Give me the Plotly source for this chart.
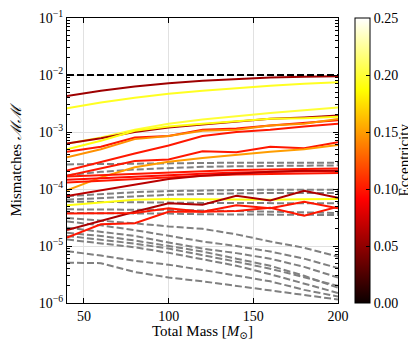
import plotly.graph_objects as go

# masas totales (M_sun) donde se evalúan los mismatches
masses = [40, 60, 80, 100, 120, 140, 160, 180, 200]

threshold = 1e-2

# series con excentricidad (líneas sólidas, color según excentricidad)
ecc_lines = [
    (0.055, [4.3e-3, 5.3e-3, 6.3e-3, 7.2e-3, 7.9e-3, 8.5e-3, 9.0e-3, 9.3e-3, 9.5e-3]),
    (0.195, [2.6e-3, 3.3e-3, 4.0e-3, 4.7e-3, 5.3e-3, 5.9e-3, 6.5e-3, 7.0e-3, 7.5e-3]),
    (0.200, [6.2e-4, 8.0e-4, 1.1e-3, 1.4e-3, 1.65e-3, 1.9e-3, 2.15e-3, 2.4e-3, 2.7e-3]),
    (0.060, [6.3e-4, 7.8e-4, 1.0e-3, 1.2e-3, 1.35e-3, 1.5e-3, 1.7e-3, 1.8e-3, 1.95e-3]),
    (0.190, [5.0e-4, 7.0e-4, 1.05e-3, 1.25e-3, 1.4e-3, 1.55e-3, 1.7e-3, 1.75e-3, 1.85e-3]),
    (0.100, [4.5e-4, 5.5e-4, 8.0e-4, 8.5e-4, 1.1e-3, 1.15e-3, 1.3e-3, 1.45e-3, 1.6e-3]),
    (0.145, [3.6e-4, 5.0e-4, 7.5e-4, 8.5e-4, 1.05e-3, 1.1e-3, 1.3e-3, 1.4e-3, 1.7e-3]),
    (0.100, [2.1e-4, 3.0e-4, 4.2e-4, 5.8e-4, 8.5e-4, 1.0e-3, 1.1e-3, 1.25e-3, 1.4e-3]),
    (0.100, [1.7e-4, 2.3e-4, 3.1e-4, 3.3e-4, 4.6e-4, 4.4e-4, 5.5e-4, 5.2e-4, 6.6e-4]),
    (0.150, [9.5e-5, 1.6e-4, 2.4e-4, 3.0e-4, 3.5e-4, 4.0e-4, 4.5e-4, 5.0e-4, 5.9e-4]),
    (0.100, [1.65e-4, 1.75e-4, 1.85e-4, 1.95e-4, 2.05e-4, 2.15e-4, 2.2e-4, 2.25e-4, 2.3e-4]),
    (0.095, [1.45e-4, 1.55e-4, 1.65e-4, 1.75e-4, 1.85e-4, 1.95e-4, 2.0e-4, 2.05e-4, 2.1e-4]),
    (0.100, [1.3e-4, 1.4e-4, 1.5e-4, 1.6e-4, 1.7e-4, 1.8e-4, 1.85e-4, 1.9e-4, 1.9e-4]),
    (0.065, [7.5e-5, 9.5e-5, 1.2e-4, 1.5e-4, 1.7e-4, 1.85e-4, 2.0e-4, 2.1e-4, 2.1e-4]),
    (0.190, [5.2e-5, 5.8e-5, 6.5e-5, 6.7e-5, 6.6e-5, 6.6e-5, 6.5e-5, 6.6e-5, 6.7e-5]),
    (0.060, [1.9e-5, 2.8e-5, 4.0e-5, 5.6e-5, 5.3e-5, 7.6e-5, 6.3e-5, 9.3e-5, 7.0e-5]),
    (0.100, [3.7e-5, 3.7e-5, 3.8e-5, 4.6e-5, 4.0e-5, 5.2e-5, 4.6e-5, 6.0e-5, 4.6e-5]),
    (0.100, [1.4e-5, 2.4e-5, 2.5e-5, 4.0e-5, 4.0e-5, 4.1e-5, 4.7e-5, 3.4e-5, 4.9e-5]),
]

# series sin excentricidad (gris discontinuo)
circ_lines = [
    [2.7e-4, 2.75e-4, 2.8e-4, 2.85e-4, 2.9e-4, 2.9e-4, 2.9e-4, 2.9e-4, 2.9e-4],
    [1.75e-4, 2.0e-4, 2.2e-4, 2.35e-4, 2.45e-4, 2.5e-4, 2.55e-4, 2.6e-4, 2.6e-4],
    [7.5e-5, 8.2e-5, 8.8e-5, 9.2e-5, 9.5e-5, 9.6e-5, 9.7e-5, 9.7e-5, 9.7e-5],
    [6.5e-5, 7.0e-5, 7.5e-5, 7.9e-5, 8.2e-5, 8.4e-5, 8.5e-5, 8.5e-5, 8.5e-5],
    [6.0e-5, 5.9e-5, 5.8e-5, 5.8e-5, 5.7e-5, 5.7e-5, 5.6e-5, 5.6e-5, 5.6e-5],
    [4.4e-5, 4.4e-5, 4.3e-5, 4.3e-5, 4.2e-5, 4.1e-5, 4.0e-5, 3.9e-5, 3.8e-5],
    [3.8e-5, 3.8e-5, 3.7e-5, 3.7e-5, 3.6e-5, 3.6e-5, 3.6e-5, 3.5e-5, 3.5e-5],
    [3.1e-5, 2.8e-5, 2.5e-5, 2.2e-5, 2.0e-5, 1.6e-5, 1.2e-5, 9.3e-6, 6.5e-6],
    [2.7e-5, 2.3e-5, 1.9e-5, 1.5e-5, 1.2e-5, 1.0e-5, 8.0e-6, 6.0e-6, 4.1e-6],
    [2.1e-5, 1.8e-5, 1.5e-5, 1.15e-5, 9.0e-6, 7.5e-6, 6.0e-6, 4.3e-6, 2.8e-6],
    [1.7e-5, 1.5e-5, 1.25e-5, 1.0e-5, 8.0e-6, 6.0e-6, 4.5e-6, 3.0e-6, 1.85e-6],
    [1.5e-5, 1.3e-5, 1.1e-5, 9.0e-6, 7.0e-6, 5.3e-6, 4.0e-6, 2.8e-6, 2.0e-6],
    [1.3e-5, 1.1e-5, 9.5e-6, 7.6e-6, 5.8e-6, 4.5e-6, 3.2e-6, 2.2e-6, 1.5e-6],
    [8.1e-6, 6.8e-6, 5.5e-6, 4.7e-6, 3.8e-6, 3.0e-6, 2.4e-6, 1.7e-6, 1.3e-6],
    [5.1e-6, 5.0e-6, 3.5e-6, 2.8e-6, 2.4e-6, 2.0e-6, 1.7e-6, 1.4e-6, 1.15e-6],
]

ecc_min, ecc_max = 0.0, 0.25
cbar_ticks = [0.0, 0.05, 0.10, 0.15, 0.20, 0.25]
y_ticks = [1e-6, 1e-5, 1e-4, 1e-3, 1e-2, 1e-1]
y_ticktext = ["10<sup>−6</sup>", "10<sup>−5</sup>", "10<sup>−4</sup>",
              "10<sup>−3</sup>", "10<sup>−2</sup>", "10<sup>−1</sup>"]
x_ticks = [50, 100, 150, 200]

# colormap "hot" de matplotlib (tramos lineales)
HOT = [(0.0, (0.0416, 0.0, 0.0)), (0.365079, (1.0, 0.0, 0.0)),
       (0.746032, (1.0, 1.0, 0.0)), (1.0, (1.0, 1.0, 1.0))]
hot_scale = [[p, "rgb(%d,%d,%d)" % tuple(round(255 * c) for c in rgb)] for p, rgb in HOT]


def hot_color(e):
    t = min(max((e - ecc_min) / (ecc_max - ecc_min), 0), 1)
    for (p0, c0), (p1, c1) in zip(HOT[:-1], HOT[1:]):
        if t <= p1:
            f = (t - p0) / (p1 - p0)
            return "rgb(%d,%d,%d)" % tuple(round(255 * (a + f * (b - a))) for a, b in zip(c0, c1))
    return "rgb(255,255,255)"


FONT = "Liberation Serif, DejaVu Serif, serif"

fig = go.Figure()

for ys in circ_lines:
    fig.add_trace(go.Scatter(x=masses, y=ys, mode="lines", showlegend=False,
                             line=dict(color="rgb(128,128,128)", width=2, dash="7px,3px")))

for e, ys in ecc_lines:
    fig.add_trace(go.Scatter(x=masses, y=ys, mode="lines", showlegend=False,
                             line=dict(color=hot_color(e), width=2)))

fig.add_trace(go.Scatter(x=[masses[0], masses[-1]], y=[threshold, threshold], mode="lines",
                         showlegend=False, line=dict(color="black", width=2, dash="7px,3px")))

# traza invisible solo para la barra de color
fig.add_trace(go.Scatter(
    x=[masses[0], masses[0]], y=[threshold, threshold], mode="markers", showlegend=False,
    hoverinfo="skip",
    marker=dict(size=1, opacity=0, color=[ecc_min, ecc_max], cmin=ecc_min, cmax=ecc_max,
                colorscale=hot_scale, showscale=True,
                colorbar=dict(
                    x=1.063, xanchor="left", xref="paper", y=0.5, yanchor="middle", len=1.0,
                    ypad=0, xpad=0,
                    thickness=15, outlinecolor="black", outlinewidth=1,
                    tickvals=cbar_ticks, ticktext=["%.2f" % v for v in cbar_ticks],
                    ticks="inside", ticklen=4, tickcolor="black",
                    tickfont=dict(family=FONT, size=14, color="black"),
                ))))

minor_y = [k * 10.0 ** n for n in range(-6, -1) for k in range(2, 10)]

fig.update_layout(
    width=416, height=340,
    margin=dict(l=59, r=86, t=10, b=45, autoexpand=False),
    paper_bgcolor="white", plot_bgcolor="white",
    font=dict(family=FONT, size=14, color="black"),
    xaxis=dict(
        range=[40, 200], tickvals=x_ticks, ticks="inside", ticklen=5, tickcolor="black",
        showline=True, linecolor="black", linewidth=1, mirror="allticks",
        showgrid=True, gridcolor="rgb(225,225,225)", gridwidth=1, zeroline=False,
        tickfont=dict(family=FONT, size=14),
    ),
    yaxis=dict(
        type="log", range=[-6, -0.9999], tickvals=y_ticks, ticktext=y_ticktext,
        ticks="inside", ticklen=5, tickcolor="black",
        showline=True, linecolor="black", linewidth=1, mirror="allticks",
        showgrid=True, gridcolor="rgb(225,225,225)", gridwidth=1, zeroline=False,
        minor=dict(tickvals=minor_y, ticks="inside", ticklen=3, tickcolor="black", showgrid=False),
        tickfont=dict(family=FONT, size=14),
    ),
    annotations=[
        dict(text="Total Mass [<i>M</i><sub>⊙</sub>]", xref="paper", yref="paper",
             x=0.5, y=-0.1, xanchor="center", yanchor="middle", showarrow=False,
             font=dict(family=FONT, size=15)),
        dict(text="Mismatches <i>ℳℳ</i>", xref="paper", yref="paper",
             x=0, xshift=-52, y=0.5, xanchor="center", yanchor="middle", showarrow=False,
             textangle=-90, font=dict(family=FONT, size=15)),
        dict(text="Eccentricity", xref="paper", yref="paper",
             x=1, xshift=65, y=0.5, xanchor="center", yanchor="middle", showarrow=False,
             textangle=-90, font=dict(family=FONT, size=15)),
    ],
)

fig.write_html("out.html")
